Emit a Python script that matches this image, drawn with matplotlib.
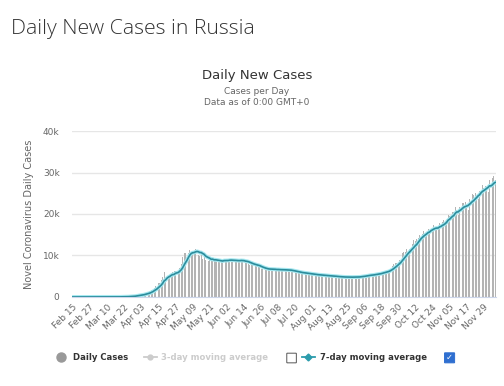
import numpy as np
import pandas as pd
import matplotlib
matplotlib.use('Agg')
import matplotlib.pyplot as plt
from matplotlib.lines import Line2D
from matplotlib.patches import FancyBboxPatch

# daily new cases in Russia, 2020-02-15 .. 2020-12-07
feb = [0] * 15
mar = [0, 1, 0, 0, 1, 6, 0, 3, 0, 3, 8, 6, 17, 14, 4, 30, 21, 33, 52, 54,
       53, 61, 71, 57, 163, 182, 196, 228, 270, 302, 500]
apr = [440, 771, 601, 582, 658, 954, 1154, 1175, 1459, 1786, 1667, 2186, 2558, 2774, 3388,
       3448, 4070, 4785, 6060, 4268, 5642, 5236, 4774, 5849, 5966, 6361, 6198, 6411, 5841, 7099]
may = [7933, 9623, 10633, 10581, 10102, 10559, 11231, 10699, 10817, 11012, 11656, 10899, 10028,
       9974, 10598, 9200, 9709, 8926, 9263, 8764, 8849, 8894, 9434, 8599, 8946, 8915, 8338,
       8371, 8572, 8952, 9268]
jun = [9035, 8863, 8536, 8831, 8705, 8855, 8984, 8985, 8595, 8404, 8779, 8987, 8706, 8835, 8246,
       8248, 7843, 7790, 7972, 7889, 7728, 7600, 7425, 7176, 7113, 6800, 6852, 6791, 6719, 6693]
jul = [6556, 6760, 6718, 6632, 6736, 6611, 6368, 6562, 6509, 6635, 6611, 6615, 6537, 6248, 6422,
       6428, 6406, 6234, 6109, 5940, 5842, 5862, 5811, 5848, 5871, 5765, 5635, 5395, 5475, 5509, 5482]
aug = [5462, 5427, 5394, 5159, 5204, 5267, 5241, 5212, 5189, 5118, 4945, 5102, 5057, 5065, 5061,
       4969, 4892, 4748, 4790, 4828, 4870, 4921, 4852, 4696, 4676, 4711, 4741, 4829, 4980, 4897, 4729]
sep = [4670, 4729, 4952, 5110, 5205, 5195, 5185, 5099, 5218, 5363, 5449, 5406, 5509, 5572, 5488,
       5670, 5762, 5905, 6065, 6148, 6196, 6215, 6431, 6595, 7212, 7523, 7867, 8135, 8232, 8481]
oct_ = [8945, 9412, 10499, 10888, 10888, 11615, 11115, 11493, 12126, 12846, 13634, 13592, 13868,
        14231, 14922, 15150, 15099, 15982, 15392, 15700, 16319, 15971, 17340, 16521, 17347, 16550,
        16202, 16474, 17717, 18283, 18140]
nov = [18665, 18257, 18648, 19768, 19404, 20582, 20498, 20396, 21798, 20977, 19851, 21608, 21983,
       22702, 22572, 22778, 21798, 20985, 23610, 24318, 24822, 24581, 25173, 24326, 23675, 25487,
       27543, 27100, 26338, 26683]
dec = [26402, 25345, 28145, 27403, 28782, 29039, 28137]

cases = feb + mar + apr + may + jun + jul + aug + sep + oct_ + nov + dec
dates = pd.date_range('2020-02-15', periods=len(cases), freq='D')
df = pd.DataFrame({'cases': cases}, index=dates)
df['ma7'] = df['cases'].rolling(7, min_periods=1).mean()

fig = plt.figure(figsize=(5.04, 3.86), dpi=100)
ax = fig.add_axes([0.143, 0.2306, 0.841, 0.430])

x = np.arange(len(df))
ax.bar(x, df['cases'], width=0.6, color='#b4b4b4', linewidth=0, zorder=2)
ax.plot(x, df['ma7'], color='#a6e8f0', lw=2.8, zorder=3, solid_capstyle='round')
ax.plot(x, df['ma7'], color='#2c8c9c', lw=1.2, zorder=4)

ax.set_xlim(-0.5, len(df) - 0.5)
ax.set_ylim(0, 40000)
ax.set_yticks([0, 10000, 20000, 30000, 40000])
ax.set_yticklabels(['0', '10k', '20k', '30k', '40k'])
ticks = x[::12]
ax.set_xticks(ticks)
ax.set_xticklabels([d.strftime('%b %d') for d in dates[::12]], rotation=45,
                   ha='right', rotation_mode='anchor')
ax.tick_params(axis='both', length=0, labelsize=6.5, colors='#666666')
ax.tick_params(axis='x', pad=4)
ax.tick_params(axis='y', pad=9)
ax.grid(axis='y', color='#e6e6e6', lw=1, zorder=0)
for s in ['top', 'right', 'left']:
    ax.spines[s].set_visible(False)
ax.spines['bottom'].set_color('#ccd6eb')
ax.set_ylabel('Novel Coronavirus Daily Cases', fontsize=7, color='#666666', labelpad=6)

fig.text(0.022, 0.913, 'Daily New Cases in Russia', fontsize=15.3, color='#333333',
         family='Open Sans', fontweight='light')
fig.text(0.51, 0.795, 'Daily New Cases', fontsize=9.5, color='#333333', ha='center')
fig.text(0.51, 0.728, 'Cases per Day\nData as of 0:00 GMT+0', fontsize=6.5, color='#666666',
         ha='center', linespacing=1.25)

# legend row
ly = 0.075
fs = 6.1
fig.add_artist(Line2D([0.121], [ly], transform=fig.transFigure, marker='o', markersize=6.5,
                      color='#999999', lw=0))
fig.text(0.145, ly, 'Daily Cases', fontsize=fs, fontweight='bold', color='#333333', va='center')
fig.add_artist(Line2D([0.286, 0.311], [ly, ly], transform=fig.transFigure, color='#cccccc',
                      lw=1.3))
fig.add_artist(Line2D([0.298], [ly], transform=fig.transFigure, color='#cccccc',
                      marker='o', markersize=3.5, lw=0))
fig.text(0.319, ly, '3-day moving average', fontsize=fs, fontweight='bold', color='#cccccc',
         va='center')
fig.add_artist(FancyBboxPatch((0.570, ly - 0.014), 0.017, 0.023, boxstyle='round,pad=0.001',
                              transform=fig.transFigure, facecolor='white',
                              edgecolor='#555555', lw=0.7))
fig.add_artist(Line2D([0.599, 0.625], [ly, ly], transform=fig.transFigure, color='#2c9cac',
                      lw=1.3))
fig.add_artist(Line2D([0.612], [ly], transform=fig.transFigure, color='#2c9cac',
                      marker='D', markersize=3.5, lw=0))
fig.text(0.635, ly, '7-day moving average', fontsize=fs, fontweight='bold', color='#333333',
         va='center')
fig.add_artist(FancyBboxPatch((0.883, ly - 0.014), 0.018, 0.024, boxstyle='round,pad=0.001',
                              transform=fig.transFigure, facecolor='#2f6fd0',
                              edgecolor='#2f6fd0', lw=0.7))
fig.text(0.892, ly - 0.0015, '\u2713', fontsize=6, color='white', ha='center', va='center',
         fontweight='bold')

fig.savefig('out.png', dpi=100)
